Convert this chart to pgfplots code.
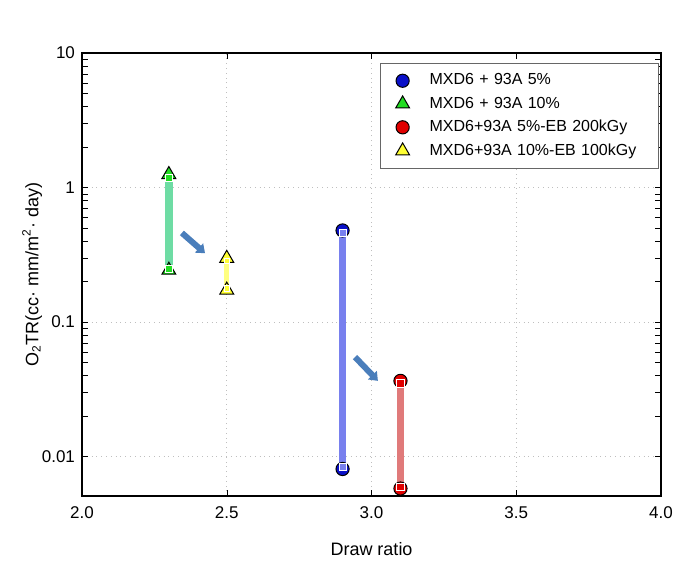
\documentclass[border=0pt]{standalone}
\usepackage{pgfplots}
\pgfplotsset{compat=1.18}
\usetikzlibrary{arrows.meta}
\usepackage{fontspec}
\setmainfont{Liberation Sans}
\definecolor{mblue}{HTML}{0A10C8}
\definecolor{bblue}{HTML}{7880EE}
\definecolor{mgreen}{HTML}{22DD22}
\definecolor{bgreen}{HTML}{6EDCA4}
\definecolor{mred}{HTML}{E00000}
\definecolor{bred}{HTML}{E07A7A}
\definecolor{myellow}{HTML}{FFFF33}
\definecolor{byellow}{HTML}{FFFF80}
\definecolor{arr}{HTML}{4A7EBB}
\begin{document}
\begin{tikzpicture}
\begin{axis}[
  scale only axis,
  width=289.5pt, height=221.5pt,
  xmin=2, xmax=4, ymode=log, ymin=0.0051, ymax=10,
  xtick={2,2.5,3,3.5,4},
  xticklabels={2.0,2.5,3.0,3.5,4.0},
  ytick={0.01,0.1,1,10},
  yticklabels={0.01,0.1,1,10},
  minor ytick={},
  tick align=inside,
  major tick length=3pt,
  tick style={black},
  axis line style={black, line width=0.6pt},
  grid=major,
  major grid style={gray!50, dotted, line width=0.5pt},
  tick label style={font=\fontsize{8.5}{10}\selectfont},
  xticklabel style={yshift=-2pt},
  /pgf/number format/assume math mode=true,
  xlabel={Draw ratio},
  ylabel={O\textsubscript{2}TR(cc· mm/m\textsuperscript{2}· day)},
  label style={font=\fontsize{9}{11}\selectfont},
  xlabel style={yshift=-5pt},
  ylabel style={yshift=-7pt},
  clip=false,
  legend style={at={(rel axis cs:0.515,0.977)}, anchor=north west,
    draw=gray!80!black, line width=0.5pt,
    font=\fontsize{8}{9.5}\selectfont,
    row sep=0.5pt, inner xsep=7.5pt, inner ysep=3pt,
    text width=105pt,
    /tikz/every odd column/.append style={column sep=8pt}},
  legend cell align=left,
]
% invisible bounding box
\path (rel axis cs:-0.1416,-0.1625) (rel axis cs:1.050,1.1196);
% markers
\addplot[only marks, mark=*, mark size=3.3pt, mark options={fill=mblue, draw=black, line width=0.5pt}] coordinates {(2.9,0.48) (2.9,0.0081)};
\addlegendentry{MXD6 + 93A 5\%}
\addplot[only marks, mark=triangle*, mark size=4pt, mark options={fill=mgreen, draw=black, line width=0.5pt}] coordinates {(2.3,1.25) (2.3,0.243)};
\addlegendentry{MXD6 + 93A 10\%}
\addplot[only marks, mark=*, mark size=3.3pt, mark options={fill=mred, draw=black, line width=0.5pt}] coordinates {(3.1,0.0366) (3.1,0.0058)};
\addlegendentry{MXD6+93A 5\%-EB 200kGy}
\addplot[only marks, mark=triangle*, mark size=4pt, mark options={fill=myellow, draw=black, line width=0.5pt}] coordinates {(2.5,0.298) (2.5,0.173)};
\addlegendentry{MXD6+93A 10\%-EB 100kGy}
% bars
\addplot[bblue, line width=3.2pt, forget plot, mark=square*, mark size=1.8pt, mark options={fill=bblue, draw=white, line width=0.4pt}] coordinates {(2.9,0.46) (2.9,0.0084)};
\addplot[bgreen, line width=3.8pt, forget plot, mark=square*, mark size=1.8pt, mark options={fill=mgreen, draw=white, line width=0.4pt}] coordinates {(2.3,1.18) (2.3,0.25)};
\addplot[bred, line width=3.6pt, forget plot, mark=square*, mark size=1.8pt, mark options={fill=mred, draw=white, line width=0.4pt}] coordinates {(3.1,0.035) (3.1,0.006)};
\addplot[byellow, line width=2.6pt, forget plot, mark=square*, mark size=1.4pt, mark options={fill=myellow, draw=white, line width=0.4pt}] coordinates {(2.5,0.285) (2.5,0.178)};
% arrows
\draw[arr, line width=3pt, -{Triangle[width=6pt,length=4pt]}] (axis cs:2.345,0.46) -- (axis cs:2.425,0.325);
\draw[arr, line width=3pt, -{Triangle[width=6pt,length=4pt]}] (axis cs:2.943,0.055) -- (axis cs:3.022,0.0366);
\end{axis}
\end{tikzpicture}
\end{document}
